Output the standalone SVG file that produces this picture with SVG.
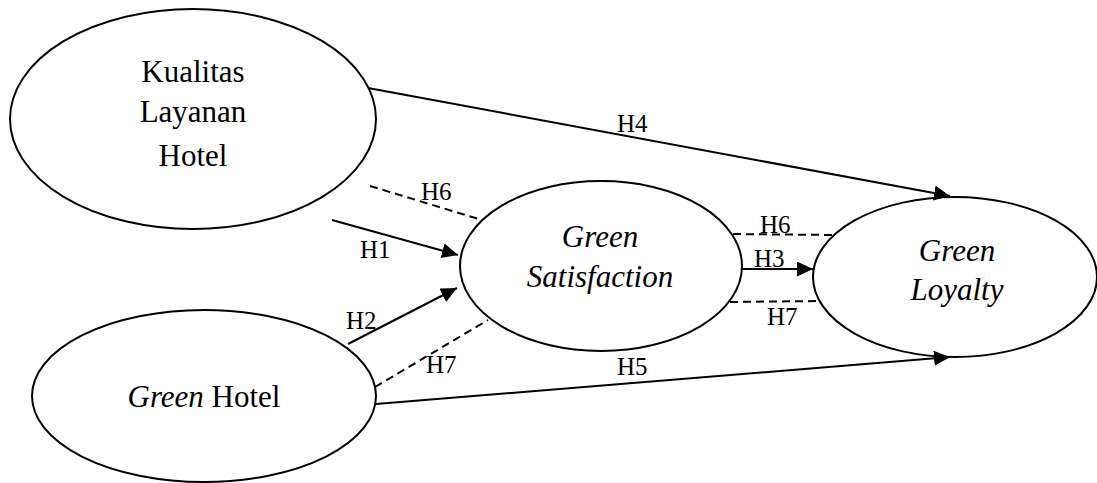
<svg xmlns="http://www.w3.org/2000/svg" width="1097" height="483" viewBox="0 0 1097 483" font-family="Liberation Serif, DejaVu Serif, serif">
<style>
.node{fill:#fff;stroke:#000;stroke-width:2}
.t{font-size:31px;fill:#000;text-anchor:middle}
.i{font-style:italic}
.lbl{font-size:25px;fill:#000}
.c{fill:none;stroke:#000;stroke-width:2}
.d{fill:none;stroke:#000;stroke-width:2;stroke-dasharray:8 5}
</style>
<defs>
<marker id="ah" markerUnits="userSpaceOnUse" markerWidth="17" markerHeight="16" refX="16" refY="7.5" orient="auto">
<path d="M0,0 L16,7.5 L0,15 z" fill="#000"/>
</marker>
</defs>
<g id="kualitas">
<ellipse class="node" cx="193" cy="119" rx="183" ry="110"/>
<text class="t" font-family="Liberation Serif" x="193" y="82">Kualitas</text>
<text class="t" font-family="Liberation Serif" x="193" y="122">Layanan</text>
<text class="t" font-family="Liberation Serif" x="193" y="166">Hotel</text>
</g>
<g id="greenhotel">
<ellipse class="node" cx="204" cy="396" rx="172" ry="86"/>
<text class="t" font-family="Liberation Serif" x="204" y="407"><tspan class="i">Green</tspan> Hotel</text>
</g>
<g id="satisfaction">
<ellipse class="node" cx="601" cy="266" rx="141" ry="85"/>
<text class="t i" font-family="Liberation Serif" x="600" y="247">Green</text>
<text class="t i" font-family="Liberation Serif" x="600" y="287">Satisfaction</text>
</g>
<g id="loyalty">
<ellipse class="node" cx="955" cy="277" rx="142" ry="80"/>
<text class="t i" font-family="Liberation Serif" x="957" y="261">Green</text>
<text class="t i" font-family="Liberation Serif" x="957" y="300">Loyalty</text>
</g>
<g id="connectors" font-family="Liberation Serif">
<line class="c" x1="368" y1="88" x2="950" y2="196" marker-end="url(#ah)"/>
<line class="c" x1="376" y1="404" x2="950" y2="357" marker-end="url(#ah)"/>
<line class="c" x1="332" y1="220" x2="458" y2="255" marker-end="url(#ah)"/>
<line class="c" x1="348" y1="344" x2="457" y2="288" marker-end="url(#ah)"/>
<line class="c" x1="742" y1="269" x2="813" y2="269" marker-end="url(#ah)"/>
<line class="d" x1="370" y1="186" x2="482" y2="220"/>
<line class="d" x1="375" y1="387" x2="488" y2="320"/>
<line class="d" x1="733" y1="234" x2="833" y2="235"/>
<line class="d" x1="730" y1="302" x2="820" y2="301"/>
<text class="lbl" x="617" y="132">H4</text>
<text class="lbl" x="421" y="200">H6</text>
<text class="lbl" x="360" y="258">H1</text>
<text class="lbl" x="346" y="329">H2</text>
<text class="lbl" x="426" y="373">H7</text>
<text class="lbl" x="617" y="375">H5</text>
<text class="lbl" x="760" y="233">H6</text>
<text class="lbl" x="754" y="267">H3</text>
<text class="lbl" x="767" y="325">H7</text>
</g>
</svg>
